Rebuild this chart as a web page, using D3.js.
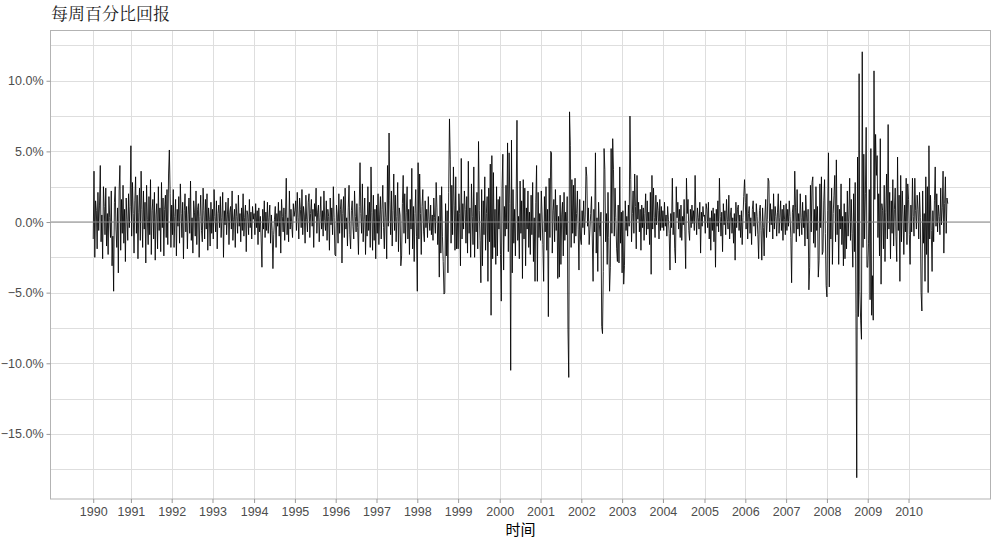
<!DOCTYPE html>
<html><head><meta charset="utf-8">
<script src="https://cdn.jsdelivr.net/npm/d3@7"></script>
<style>
html,body{margin:0;padding:0;background:#fff;}
svg{display:block;}
</style></head>
<body>
<svg id="chart" width="1007" height="541"></svg>
<script>
// Weekly percentage returns (%), one array per calendar year
const r1990 = [-1.2,3.6,-2.5,1.5,0.8,-1.9,2.1,-0.6,1.2,4.0,
  -1.4,0.5,-2.6,2.5,1.1,-0.9,2.4,-1.7,0.6,-2.3,
  1.8,0.3,-1.1,2.2,-3.1,-1.0,-4.9,1.4,2.5,-0.5,
  -1.8,1.0,-3.6,2.2,4.0,-2.0,1.6,-0.8,2.6,-1.5,
  0.9,-2.8,1.7,0.2,-1.3,2.0,-0.4,1.1];
const r1991 = [5.4,-1.0,2.8,0.6,-2.2,1.5,3.2,-0.8,1.9,-2.6,
  0.7,2.4,-1.3,3.6,0.9,-1.8,2.2,-0.5,1.4,-2.9,
  2.6,0.2,-1.6,1.8,-0.9,3.0,-2.3,0.8,1.6,-1.2,
  2.1,-2.7,0.5,1.3,-1.9,2.5,-0.6,1.0,-2.1,2.8,
  -0.4,1.7,-2.4,0.9,1.9,-1.1,2.3,-1.6,3.4,5.1,
  2.0,-1.8];
const r1992 = [1.2,-0.9,2.3,-1.8,0.4,1.6,-2.4,0.9,-0.3,1.8,
  -1.5,2.7,0.6,-1.1,1.4,-2.6,0.8,2.0,-0.7,1.1,
  -1.9,0.5,1.7,-0.8,2.9,-1.3,0.3,-2.2,1.5,0.7,
  -1.0,2.2,-1.6,0.9,1.3,-2.5,0.4,1.9,-0.6,-1.4,
  2.4,0.8,-1.2,1.6,-0.5,2.0,-2.0,1.0,0.2,-1.7,
  1.4,-0.8];
const r1993 = [0.9,-1.2,2.3,0.4,-0.7,1.5,-1.9,0.6,1.2,-0.4,
  1.8,-1.1,0.3,2.1,-2.5,0.8,-0.2,1.4,-0.9,0.5,
  1.7,-1.6,0.7,1.1,-0.5,2.2,-1.3,0.2,0.9,-1.8,
  1.3,0.4,-0.8,1.9,-0.3,0.6,-1.4,1.0,-0.6,2.0,
  -1.0,0.3,1.2,-2.1,0.8,0.5,-0.9,1.6,-0.4,0.7,
  -1.2,1.1,0.2];
const r1994 = [0.6,-0.9,1.3,-0.4,0.8,-1.6,1.0,-0.7,0.4,-1.2,
  -3.2,0.9,-0.5,1.5,-1.1,0.7,-0.6,1.4,-0.8,0.3,
  1.2,-1.5,0.5,-0.6,-3.3,-0.9,0.2,1.1,-1.8,0.6,
  -0.3,1.4,-1.0,0.8,-2.2,1.6,0.4,-0.7,1.0,-1.3,
  0.5,3.1,-0.9,0.3,-1.4,2.2,-0.5,0.9,-0.2,-1.1,
  1.3,0.4];
const r1995 = [0.8,1.5,-0.6,2.1,0.3,-1.2,1.7,0.9,-0.4,2.3,
  -0.9,1.1,0.5,-1.5,1.9,0.2,-0.7,1.4,2.0,-1.1,
  0.6,1.6,-0.3,0.9,-1.8,1.3,0.4,2.4,-0.8,0.7,
  1.2,-1.4,0.3,1.8,-0.5,0.8,-1.0,2.2,0.1,-0.6,
  1.5,-1.3,0.9,0.4,-2.0,1.7,-0.2,1.0,-0.9,2.5,
  0.3,-2.3];
const r1996 = [-2.4,1.2,0.5,-1.5,2.0,-0.8,0.9,1.6,-2.9,0.6,
  1.8,-1.1,2.4,-0.5,0.3,-1.7,1.0,2.6,-0.9,-1.9,
  0.8,1.5,-0.3,-1.2,2.2,0.4,-0.7,1.3,-0.4,-2.3,
  1.1,4.2,0.6,-0.8,2.7,-1.4,0.2,1.7,-2.3,0.5,
  -1.0,2.5,-0.6,1.4,-1.8,3.9,0.7,-2.0,1.9,-1.3,
  0.9,-2.6];
const r1997 = [1.2,-0.8,2.0,-1.6,0.5,1.8,-1.2,0.9,2.6,-0.4,
  -1.9,1.4,0.3,-2.6,4.0,-0.3,6.3,1.5,-0.9,2.2,
  -1.7,0.8,3.4,-0.6,1.9,-1.4,0.4,2.8,-2.1,1.0,
  0.5,-3.1,-2.4,1.3,3.3,-0.8,2.0,-1.5,0.7,2.5,
  -1.2,0.9,-2.3,1.6,-0.5,3.8,-1.9,1.1,-2.8,0.6,
  2.3,-1.0];
const r1998 = [-4.9,4.2,-1.2,3.4,0.6,-2.3,1.1,2.3,-0.7,-1.4,
  1.5,-0.4,0.9,-1.1,1.8,0.2,-0.6,1.2,-0.9,0.5,
  -1.3,1.7,0.3,-0.8,2.8,1.0,-1.6,0.4,-3.9,1.9,
  -2.2,2.5,-1.0,-2.8,-5.1,-5.0,1.3,-2.4,0.8,-3.6,
  2.1,7.3,4.4,-1.5,2.6,-0.9,3.9,1.2,-2.0,3.2,
  -1.9,0.8];
const r1999 = [-1.9,2.0,0.6,-3.1,4.5,-1.2,1.3,-0.5,2.2,0.9,
  -1.5,1.8,-2.2,4.3,-0.8,1.0,-2.5,2.7,0.4,-1.6,
  3.9,-2.5,1.2,-0.7,2.1,-1.9,5.7,0.8,-1.3,-4.3,
  2.3,-3.1,1.5,-0.9,3.2,-2.0,0.6,1.8,-4.2,2.4,
  -1.4,4.1,-6.6,4.7,-2.6,3.5,-1.8,0.9,-3.0,2.5,
  -2.4,1.6,-0.5];
const r2000 = [1.8,-2.3,-5.6,2.4,4.8,-3.4,1.1,-1.0,2.6,-0.5,
  5.6,-2.1,4.9,1.3,-10.5,5.8,-3.6,2.3,-1.5,0.9,
  -2.4,1.7,7.2,-1.3,0.4,-2.6,2.9,-0.8,1.5,-4.0,
  3.0,-1.2,2.4,-3.1,1.0,-0.5,2.2,-1.8,0.7,-2.3,
  1.9,-0.9,2.8,-2.8,0.3,-4.2,1.4,4.0,-4.2,2.1,
  -1.1,0.6];
const r2001 = [-1.3,2.2,0.5,-1.6,-4.2,1.8,-0.7,2.5,-2.0,0.9,
  -6.7,3.1,-1.1,5.0,4.9,-2.2,0.8,1.6,-1.4,2.3,
  -0.6,1.2,-4.0,0.4,-3.9,1.9,-3.0,0.5,1.4,-2.4,
  2.1,-1.3,0.7,-0.9,1.8,-7.6,-11.0,7.8,5.4,-1.8,
  3.0,-0.8,2.6,-1.5,3.1,-1.0,0.6,2.2,-0.5,-3.4,
  1.6,-1.2];
const r2002 = [-1.6,0.8,-0.4,1.5,-0.9,0.5,3.9,3.2,-0.3,1.0,
  -1.6,-0.5,0.6,1.8,-1.2,-4.2,0.9,-0.7,4.9,-2.2,
  0.3,-3.5,1.4,-0.2,-1.0,0.7,-7.4,-7.9,-3.5,5.2,
  3.7,-1.4,0.6,-3.0,2.1,-1.1,-4.9,-3.2,5.2,-0.8,
  5.9,3.7,-1.0,2.4,0.3,-1.9,-2.8,1.2,-2.9,3.9,
  -1.5,0.7];
const r2003 = [-3.6,0.8,-4.4,-3.1,1.5,-0.6,0.4,-1.0,1.2,-0.3,
  7.5,3.0,-1.4,0.6,2.2,-0.8,3.4,1.1,-1.9,3.3,
  0.2,1.4,-0.7,0.9,-2.0,1.2,-0.4,1.0,-1.3,0.6,
  2.0,-0.9,1.5,-0.5,0.7,-1.6,2.1,-3.7,3.3,-0.5,
  2.4,0.3,-1.1,1.9,-0.2,1.4,0.8,-1.2,1.6,-0.6,
  1.1,-0.4];
const r2004 = [0.8,-0.6,1.4,-0.3,0.5,-1.0,1.1,0.2,-0.8,-3.4,
  0.6,-0.4,3.1,-0.9,0.7,-1.9,-2.9,2.5,0.3,1.4,
  -0.5,0.9,-1.1,1.2,-1.3,0.4,-0.2,1.6,-0.7,-3.3,
  3.1,0.6,1.6,-0.6,-1.3,0.9,-0.4,1.2,-0.1,0.8,
  -0.6,3.3,0.5,-0.9,1.0,0.3,-0.5,1.4,-2.2,0.7,
  -0.3,1.1,0.4];
const r2005 = [0.5,-0.8,1.3,0.9,-0.4,1.4,-1.2,0.3,-2.0,0.8,
  -0.6,1.0,-1.4,0.6,-3.2,0.9,-0.3,1.5,-0.7,3.1,
  0.4,-1.0,0.7,-2.1,1.3,-0.2,0.8,-0.9,1.6,0.2,
  -0.5,1.9,-1.2,0.5,1.0,-0.8,0.3,-1.5,0.6,-2.7,
  1.4,-0.4,0.9,1.2,-0.6,0.5,-1.1,0.8,-1.6,0.3,
  1.8,3.0];
const r2006 = [1.4,-0.5,2.0,-1.2,0.6,1.1,-0.8,0.3,-1.6,0.9,
  1.5,-0.3,0.7,-1.0,1.3,0.4,-0.9,-2.6,0.8,1.2,
  -0.6,-2.7,1.0,-0.4,-2.4,0.5,1.6,-1.1,0.2,3.1,
  2.9,-0.7,1.3,-0.2,0.9,-1.2,2.0,-0.5,1.1,0.4,
  -1.0,0.7,2.0,-0.8,0.3,1.5,-0.6,0.9,-1.3,1.2,
  0.2,-0.9];
const r2007 = [1.3,-0.6,0.9,-0.3,1.5,0.4,-1.1,-4.3,0.7,1.2,
  -0.8,3.6,1.0,-1.4,2.3,-0.5,0.6,-1.0,2.0,0.3,
  -0.9,1.4,-0.4,0.8,-1.7,1.9,0.5,-1.2,0.9,-4.8,
  -3.2,2.6,-0.7,2.8,3.2,-1.5,0.9,-1.8,2.5,-0.6,
  1.1,-3.9,-2.7,2.7,-0.4,3.2,-2.3,-2.1,1.5,3.0,
  -0.8,-4.5];
const r2008 = [-5.3,0.8,4.9,-4.6,1.5,-1.2,2.4,-3.0,0.6,1.9,
  3.3,-1.4,4.4,-0.9,1.2,-3.0,0.9,-0.5,2.7,-1.6,
  0.4,-3.1,1.3,-2.6,0.7,-1.9,2.2,-1.0,0.5,3.1,
  -1.3,1.6,-0.8,-3.2,2.0,-2.1,2.8,-6.45,-18.1,4.6,
  -6.7,10.5,-4.9,-7.0,-8.3,12.05,-1.8,4.8,-1.2,2.0,
  6.7,-3.2];
const r2009 = [-3.2,-1.5,2.3,-5.5,5.2,-6.6,-3.8,-6.95,10.7,1.6,
  6.2,3.3,4.7,-1.1,2.0,-2.4,5.9,-4.4,1.3,0.8,
  -1.9,2.6,-2.8,0.7,3.4,-1.2,6.9,-0.5,2.1,-2.6,
  1.5,-0.8,3.0,-1.7,0.9,2.4,-1.0,-2.8,4.6,-0.6,
  1.9,-4.2,3.3,-1.4,2.2,0.5,-2.3,1.2,-0.7,3.1,
  -1.6,2.7];
const r2010 = [1.6,-0.9,-3.0,1.2,-0.7,3.1,0.4,-1.0,3.1,0.8,
  -0.5,1.9,0.9,-1.2,2.1,0.3,-5.0,-6.3,2.2,-1.5,
  0.6,-4.2,3.2,-2.3,2.5,-5.0,5.4,-1.2,1.9,-0.6,
  -3.5,0.8,-1.4,1.5,3.9,-0.3,2.0,-0.7,1.2,0.4,
  -0.9,2.4,-0.2,1.0,3.6,-2.2,1.3,3.2,-0.8,1.7,
  1.3];

const years = [1990,1991,1992,1993,1994,1995,1996,1997,1998,1999,2000,
               2001,2002,2003,2004,2005,2006,2007,2008,2009,2010];
const yearly = [r1990,r1991,r1992,r1993,r1994,r1995,r1996,r1997,r1998,r1999,r2000,
                r2001,r2002,r2003,r2004,r2005,r2006,r2007,r2008,r2009,r2010];
const firstWeek = ["1990-02-02","1991-01-04","1992-01-03","1993-01-01","1994-01-07",
  "1995-01-06","1996-01-05","1997-01-03","1998-01-02","1999-01-01","2000-01-07",
  "2001-01-05","2002-01-04","2003-01-03","2004-01-02","2005-01-07","2006-01-06",
  "2007-01-05","2008-01-04","2009-01-02","2010-01-01"];
const yTickValues = [-15,-10,-5,0,5,10];
const yMinorValues = [-17.5,-12.5,-7.5,-2.5,2.5,7.5,12.5];
const titleText = "每周百分比回报";
const xTitle = "时间";

const parse = d3.utcParse("%Y-%m-%d");
const DAY = 86400000;
const data = [];
yearly.forEach((arr, k) => {
  const d0 = parse(firstWeek[k]);
  arr.forEach((v, i) => data.push({date: new Date(d0.getTime() + i*7*DAY), value: v}));
});
const tickDates = firstWeek.map(parse);

const svg = d3.select("#chart");
const L = 50.5, R = 990.5, T = 30.5, B = 499;

const xExt = d3.extent(data, d => d.date);
const xPad = (xExt[1] - xExt[0]) * 0.05;
const x = d3.scaleUtc().domain([new Date(+xExt[0] - xPad), new Date(+xExt[1] + xPad)]).range([L, R]);
const yExt = d3.extent(data, d => d.value);
const yPad = (yExt[1] - yExt[0]) * 0.05;
const y = d3.scaleLinear().domain([yExt[0] - yPad, yExt[1] + yPad]).range([B, T]);

const grid = svg.append("g");
grid.selectAll("line.hmin").data(yMinorValues).join("line")
  .attr("x1", L).attr("x2", R).attr("y1", d => Math.round(y(d))+0.5).attr("y2", d => Math.round(y(d))+0.5)
  .attr("stroke", "#dedede").attr("stroke-width", 1);
grid.selectAll("line.hmaj").data(yTickValues).join("line")
  .attr("x1", L).attr("x2", R).attr("y1", d => Math.round(y(d))+0.5).attr("y2", d => Math.round(y(d))+0.5)
  .attr("stroke", "#dedede").attr("stroke-width", 1);
grid.selectAll("line.v").data(tickDates).join("line")
  .attr("y1", T).attr("y2", B).attr("x1", d => Math.round(x(d))+0.5).attr("x2", d => Math.round(x(d))+0.5)
  .attr("stroke", "#dedede").attr("stroke-width", 1);

const line = d3.line().x(d => x(d.date)).y(d => y(d.value));
svg.append("path").datum(data).attr("d", line)
  .attr("fill", "none").attr("stroke", "#000").attr("stroke-width", 0.85).attr("stroke-linejoin", "round");

svg.append("line").attr("x1", L).attr("x2", R).attr("y1", y(0)).attr("y2", y(0))
  .attr("stroke", "#8a8a8a").attr("stroke-width", 1.1);

svg.append("rect").attr("x", L).attr("y", T).attr("width", R - L).attr("height", B - T)
  .attr("fill", "none").attr("stroke", "#b3b3b3").attr("stroke-width", 1);

const yAxis = svg.append("g").attr("transform", `translate(${L},0)`)
  .call(d3.axisLeft(y).tickValues(yTickValues).tickSize(4).tickPadding(3)
    .tickFormat(d => d3.format(".1f")(d) + "%"));
const xAxis = svg.append("g").attr("transform", `translate(0,${B})`)
  .call(d3.axisBottom(x).tickValues(tickDates).tickSize(4).tickPadding(4)
    .tickFormat((d, i) => years[i]));
[yAxis, xAxis].forEach(g => {
  g.select(".domain").remove();
  g.selectAll(".tick line").attr("stroke", "#999");
  g.selectAll(".tick text").attr("fill", "#4d4d4d")
    .style("font-family", "'Liberation Sans', Arial, sans-serif").style("font-size", "12.5px");
});

svg.append("text").attr("x", 51).attr("y", 20).text(titleText)
  .style("font-family", "'Noto Serif CJK SC','Noto Sans CJK SC',serif").style("font-size", "17px").attr("fill", "#1a1a1a");
svg.append("text").attr("x", (L + R) / 2).attr("y", 535).attr("text-anchor", "middle").text(xTitle)
  .style("font-family", "'Noto Sans CJK SC',sans-serif").style("font-size", "15px").attr("fill", "#000");
</script>
</body></html>
